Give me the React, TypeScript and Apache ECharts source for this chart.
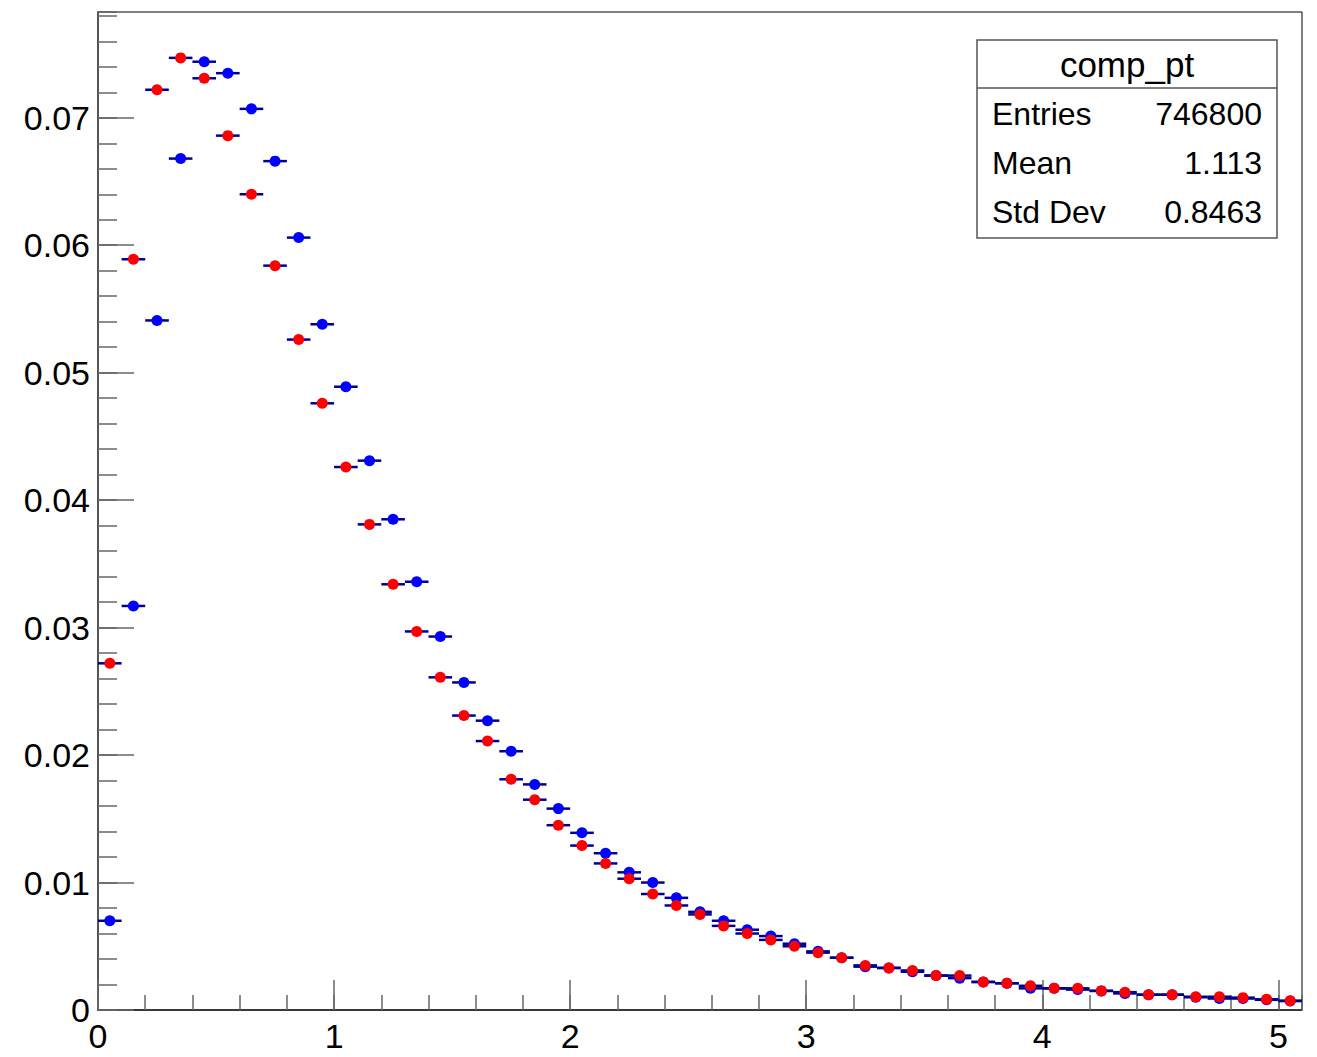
import React, { useEffect, useRef } from "react";
import * as echarts from "echarts";

const binCenters = [
  0.05, 0.15, 0.25, 0.35, 0.45, 0.55, 0.65, 0.75, 0.85, 0.95,
  1.05, 1.15, 1.25, 1.35, 1.45, 1.55, 1.65, 1.75, 1.85, 1.95,
  2.05, 2.15, 2.25, 2.35, 2.45, 2.55, 2.65, 2.75, 2.85, 2.95,
  3.05, 3.15, 3.25, 3.35, 3.45, 3.55, 3.65, 3.75, 3.85, 3.95,
  4.05, 4.15, 4.25, 4.35, 4.45, 4.55, 4.65, 4.75, 4.85, 4.95,
  5.05,
];

const blueValues = [
  0.0070, 0.0317, 0.0541, 0.0668, 0.0744, 0.0735, 0.0707, 0.0666, 0.0606, 0.0538,
  0.0489, 0.0431, 0.0385, 0.0336, 0.0293, 0.0257, 0.0227, 0.0203, 0.0177, 0.0158,
  0.0139, 0.0123, 0.0108, 0.0100, 0.0088, 0.0077, 0.0070, 0.0063, 0.0058, 0.0052,
  0.0046, 0.0041, 0.0034, 0.0033, 0.0030, 0.0027, 0.0025, 0.0022, 0.0021, 0.0017,
  0.0017, 0.0016, 0.0015, 0.0013, 0.0012, 0.0012, 0.0010, 0.0009, 0.0009, 0.0008,
  0.0007,
];

const redValues = [
  0.0272, 0.0589, 0.0722, 0.0747, 0.0731, 0.0686, 0.0640, 0.0584, 0.0526, 0.0476,
  0.0426, 0.0381, 0.0334, 0.0297, 0.0261, 0.0231, 0.0211, 0.0181, 0.0165, 0.0145,
  0.0129, 0.0115, 0.0103, 0.0091, 0.0082, 0.0075, 0.0066, 0.0060, 0.0055, 0.0050,
  0.0045, 0.0041, 0.0035, 0.0033, 0.0031, 0.0027, 0.0027, 0.0022, 0.0021, 0.0019,
  0.0017, 0.0017, 0.0015, 0.0014, 0.0012, 0.0012, 0.00104, 0.00104, 0.00097, 0.00084,
  0.00073,
];

const binWidth = 0.1;
const xMin = 0;
const xMax = 5.1;
const yMin = 0;
const yMax = 0.0783;
const xMajorStep = 1;
const xMinorStep = 0.2;
const yMajorStep = 0.01;
const yMinorStep = 0.002;

const statsTitle = "comp_pt";
const statsLabels = ["Entries", "Mean", "Std Dev"];
const statsValues = ["746800", "1.113", "0.8463"];

const FONT = "'Liberation Sans', Arial, Helvetica, sans-serif";

function makeBarSeries(values: number[], name: string) {
  return {
    name: name + "-err",
    type: "custom",
    xAxisIndex: 0,
    yAxisIndex: 0,
    encode: { x: 0, y: 1 },
    data: binCenters.map((c, i) => [c, values[i]]),
    renderItem: (params: any, api: any) => {
      const x = api.value(0);
      const y = api.value(1);
      const p1 = api.coord([x - binWidth / 2, y]);
      const p2 = api.coord([x + binWidth / 2, y]);
      return {
        type: "line",
        shape: { x1: p1[0], y1: p1[1], x2: p2[0], y2: p2[1] },
        style: { stroke: "#00008f", lineWidth: 2.5 },
      };
    },
    silent: true,
  };
}

function makeMarkerSeries(values: number[], name: string, color: string) {
  return {
    name,
    type: "scatter",
    xAxisIndex: 0,
    yAxisIndex: 0,
    symbol: "circle",
    symbolSize: 11,
    itemStyle: { color, opacity: 1 },
    data: binCenters.map((c, i) => [c, values[i]]),
    silent: true,
  };
}

export default function App() {
  const ref = useRef<HTMLDivElement>(null);

  useEffect(() => {
    if (!ref.current) return;
    const chart = echarts.init(ref.current, undefined, { renderer: "svg" });

    const boxX = 977;
    const boxY = 40;
    const boxW = 300;
    const boxH = 198;
    const titleH = 48;
    const rowH = 49;

    const statsGraphics: any[] = [
      {
        type: "rect",
        shape: { x: boxX, y: boxY, width: boxW, height: boxH },
        style: { fill: "#fff", stroke: "#555", lineWidth: 1.5 },
        z: 100,
      },
      {
        type: "line",
        shape: { x1: boxX, y1: boxY + titleH, x2: boxX + boxW, y2: boxY + titleH },
        style: { stroke: "#555", lineWidth: 1.5 },
        z: 101,
      },
      {
        type: "text",
        x: boxX + boxW / 2,
        y: boxY + titleH / 2,
        style: {
          text: statsTitle,
          fontSize: 35,
          fontFamily: FONT,
          fill: "#000",
          align: "center",
          verticalAlign: "middle",
        },
        z: 102,
      },
    ];
    statsLabels.forEach((lab, i) => {
      const cy = boxY + titleH + rowH * i + rowH / 2 + 1;
      statsGraphics.push({
        type: "text",
        x: boxX + 15,
        y: cy,
        style: { text: lab, fontSize: 32, fontFamily: FONT, fill: "#000", align: "left", verticalAlign: "middle" },
        z: 102,
      });
      statsGraphics.push({
        type: "text",
        x: boxX + boxW - 15,
        y: cy,
        style: { text: statsValues[i], fontSize: 32, fontFamily: FONT, fill: "#000", align: "right", verticalAlign: "middle" },
        z: 102,
      });
    });

    const tickStyle = { color: "#666", width: 1.5 };

    chart.setOption({
      animation: false,
      backgroundColor: "#fff",
      grid: {
        left: 98,
        top: 12,
        right: 15,
        bottom: 47,
        show: true,
        borderColor: "#000",
        borderWidth: 1,
        backgroundColor: "transparent",
      },
      xAxis: [
        {
          type: "value",
          position: "bottom",
          min: xMin,
          max: xMax,
          interval: xMajorStep,
          axisLine: { show: true, onZero: false, lineStyle: { color: "#222", width: 1.5 } },
          axisTick: { show: true, inside: true, length: 30, lineStyle: tickStyle },
          axisLabel: {
            show: true,
            fontSize: 34,
            fontFamily: FONT,
            color: "#000",
            margin: 9,
            showMaxLabel: false,
            formatter: (v: number) => String(v),
          },
          splitLine: { show: false },
        },
        {
          type: "value",
          position: "bottom",
          min: xMin,
          max: xMax,
          interval: xMinorStep,
          axisLine: { show: false, onZero: false },
          axisTick: { show: true, inside: true, length: 15, lineStyle: tickStyle },
          axisLabel: { show: false },
          splitLine: { show: false },
        },
      ],
      yAxis: [
        {
          type: "value",
          position: "left",
          min: yMin,
          max: yMax,
          interval: yMajorStep,
          axisLine: { show: true, onZero: false, lineStyle: { color: "#555", width: 2 } },
          axisTick: { show: true, inside: true, length: 36, lineStyle: tickStyle },
          axisLabel: {
            show: true,
            fontSize: 34,
            fontFamily: FONT,
            color: "#000",
            margin: 8,
            showMaxLabel: false,
            formatter: (v: number) => (v === 0 ? "0" : v.toFixed(2)),
          },
          splitLine: { show: false },
        },
        {
          type: "value",
          position: "left",
          min: yMin,
          max: yMax,
          interval: yMinorStep,
          axisLine: { show: false, onZero: false },
          axisTick: { show: true, inside: true, length: 19, lineStyle: tickStyle },
          axisLabel: { show: false },
          splitLine: { show: false },
        },
      ],
      series: [
        makeBarSeries(blueValues, "blue"),
        makeMarkerSeries(blueValues, "blue", "#0000ff"),
        makeBarSeries(redValues, "red"),
        makeMarkerSeries(redValues, "red", "#ff0000"),
      ],
      graphic: statsGraphics,
    });

    return () => {
      chart.dispose();
    };
  }, []);

  return (
    <div
      ref={ref}
      style={{ position: "fixed", left: 0, top: 0, width: 1317, height: 1057, background: "#fff" }}
    />
  );
}
